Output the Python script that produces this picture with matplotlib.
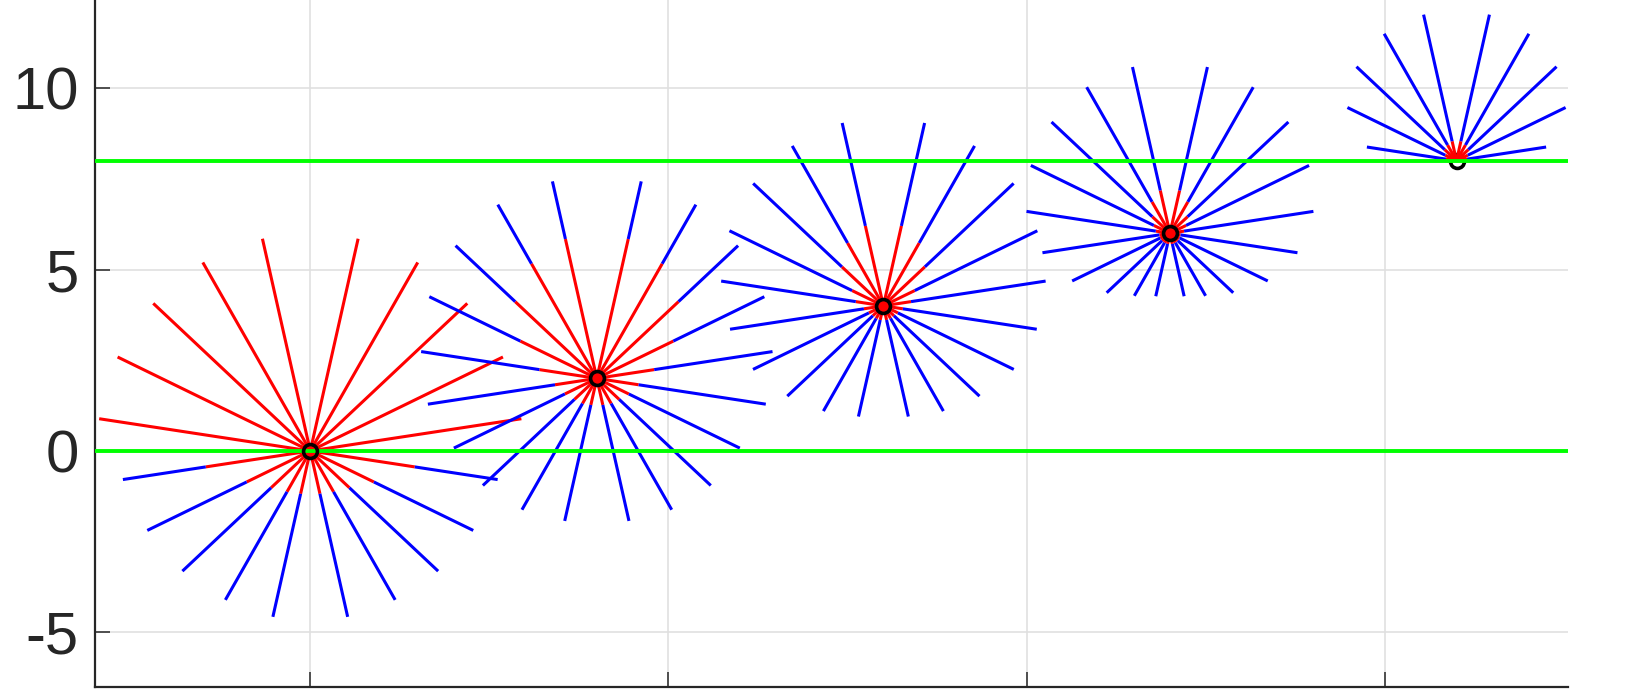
import numpy as np
import matplotlib
matplotlib.use('Agg')
import matplotlib.pyplot as plt

plt.rcParams['axes.unicode_minus'] = False

# source points
src_x = [0, 8, 16, 24, 32]
src_y = [0, 2, 4, 6, 8]

# ray directions, degrees measured from straight up (same on both sides)
ray_angle = [12.86, 30.0, 47.14, 64.29, 81.43, 98.57, 115.71, 132.86, 150.0, 167.14]

# total ray length per source, top ray -> bottom ray
len_1 = [6.00, 6.00, 5.98, 5.97, 5.96, 5.29, 5.05, 4.87, 4.74, 4.69]
len_2 = [5.57, 5.53, 5.38, 5.19, 4.96, 4.77, 4.43, 4.34, 4.18, 4.03]
len_3 = [5.17, 5.09, 4.96, 4.77, 4.58, 4.33, 4.04, 3.66, 3.35, 3.13]
len_4 = [4.70, 4.65, 4.51, 4.31, 4.05, 3.60, 3.03, 2.41, 1.99, 1.78]
len_5 = [4.13, 4.04, 3.81, 3.38, 2.53, 0, 0, 0, 0, 0]

# inner (red) part of each ray
red_1 = [6.00, 6.00, 5.98, 5.97, 5.96, 2.95, 1.97, 1.49, 1.30, 1.21]
red_2 = [3.94, 3.65, 3.11, 2.37, 1.62, 1.18, 0.99, 0.85, 0.80, 0.75]
red_3 = [2.26, 2.00, 1.58, 0.97, 0.78, 0.55, 0.45, 0.40, 0.40, 0.40]
red_4 = [1.21, 1.00, 0.67, 0.50, 0.40, 0.30, 0.30, 0.30, 0.30, 0.30]
red_5 = [0.55, 0.50, 0.45, 0.35, 0.30, 0, 0, 0, 0, 0]

lengths = [len_1, len_2, len_3, len_4, len_5]
reds = [red_1, red_2, red_3, red_4, red_5]

green_y = [0, 8]

fig = plt.figure(figsize=(16.44, 6.99), dpi=100)
ax = fig.add_axes([0.058, 0.0175, 0.8955, 0.9825])

ang = np.deg2rad(ray_angle)
for i in range(len(src_x)):
    x0, y0 = src_x[i], src_y[i]
    L = np.array(lengths[i])
    R = np.array(reds[i])
    for side in (-1, 1):
        ux = side * np.sin(ang)
        uy = np.cos(ang)
        for k in range(len(ang)):
            if L[k] <= 0:
                continue
            ax.plot([x0, x0 + R[k] * ux[k]], [y0, y0 + R[k] * uy[k]],
                    color='#ff0000', lw=2.2, solid_capstyle='butt', zorder=2)
            if L[k] > R[k]:
                ax.plot([x0 + R[k] * ux[k], x0 + L[k] * ux[k]],
                        [y0 + R[k] * uy[k], y0 + L[k] * uy[k]],
                        color='#0000ff', lw=2.2, solid_capstyle='butt', zorder=2)

for g in green_y:
    ax.axhline(g, color='#00ff00', lw=2.8, zorder=3)

# source markers (the last one sits under its rays)
ax.plot(src_x[:4], src_y[:4], 'o', mfc='none', mec='k', ms=10, mew=2.6, zorder=5)
ax.plot(src_x[4:], src_y[4:], 'o', mfc='none', mec='k', ms=10, mew=2.6, zorder=1)

ax.set_xlim(-6.0, 35.1)
ax.set_ylim(-6.5, 12.43)
ax.set_xticks([0, 10, 20, 30])
ax.set_yticks([-5, 0, 5, 10])
ax.grid(True, color='#e0e0e0', lw=1.2)
ax.set_axisbelow(True)

for s in ['top', 'right']:
    ax.spines[s].set_visible(False)
for s in ['left', 'bottom']:
    ax.spines[s].set_color('#262626')
    ax.spines[s].set_linewidth(1.6)

ax.tick_params(direction='in', length=10.5, width=1.1, color='#262626',
               labelcolor='#262626', pad=12, labelbottom=False)
for lab in ax.get_yticklabels():
    lab.set_fontfamily('Liberation Sans')
    lab.set_fontsize(43)

fig.savefig('out.png', dpi=100)
